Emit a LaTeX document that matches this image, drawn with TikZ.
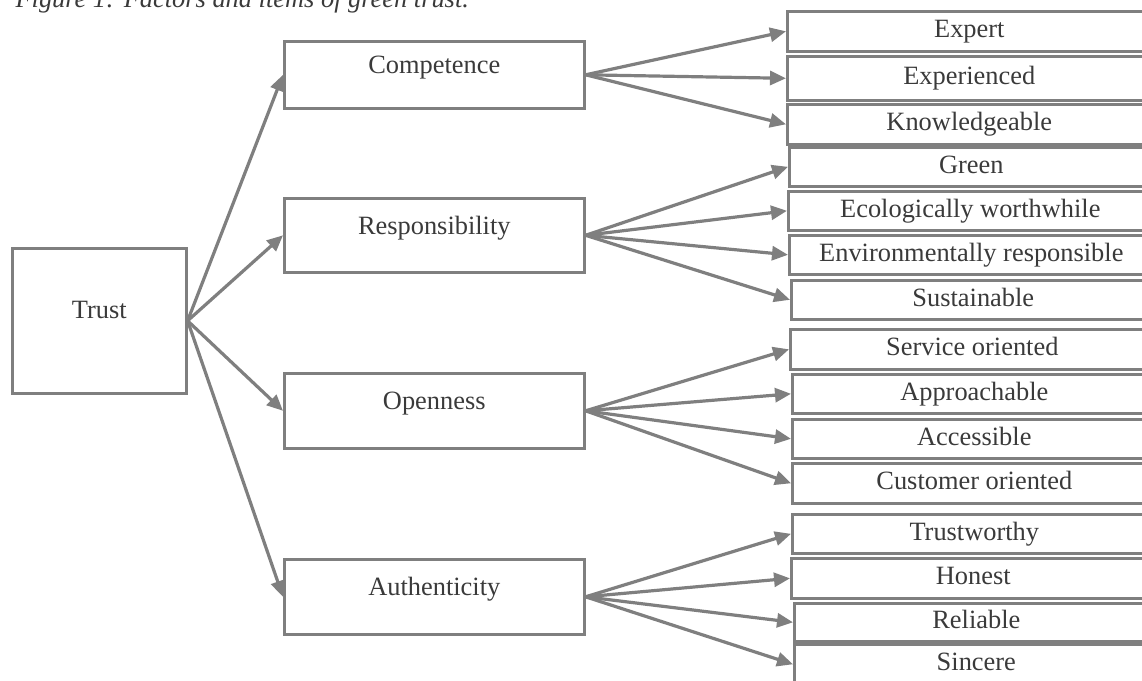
\documentclass[tikz,border=0pt]{standalone}
\usepackage{fontspec}
\setmainfont{Liberation Serif}
\usepackage{xcolor}
\usepackage{tikz}
\usetikzlibrary{arrows.meta}

\definecolor{linegray}{HTML}{7F7F7F}
\definecolor{textgray}{HTML}{3A3A3A}

\begin{document}
\begin{tikzpicture}[x=1pt, y=-1pt,
                    every node/.style={text=textgray,
                    font=\fontsize{26.4}{30}\selectfont},
                    trustbox/.style={draw=linegray, line width=2.6pt,
                    inner sep=0pt, anchor=north west,
                    text height=70pt, text depth=75pt,
                    minimum width=174pt, minimum height=145pt},
                    factorbox/.style={draw=linegray, line width=2.6pt,
                    inner sep=0pt, anchor=north west,
                    text height=32pt, text depth=34pt,
                    minimum width=300pt},
                    itembox/.style={draw=linegray, line width=2.6pt,
                    inner sep=0pt, anchor=north west,
                    text height=18pt, text depth=5pt,
                    minimum width=364pt},
                    arrowline/.style={draw=linegray, line width=3.2pt,
                    -{Triangle[length=16pt,width=14pt]}}]
                    \useasboundingbox (0,0) rectangle (1142,680);
                    \clip (0,0) rectangle (1142,680);
                    \node[anchor=base west,
                    font=\fontsize{26.4}{30}\selectfont\itshape]
                    (caption) at (12,8)
                    {Figure 1: Factors and items of green trust.};
                    \node[trustbox] (trust) at (11,247) {Trust};
                    \foreach \n/\t/\top/\bot in
                    {comp/Competence/40/107,
                    resp/Responsibility/197/271,
                    open/Openness/372/447,
                    auth/Authenticity/558/633}
                    \node[factorbox, minimum height={(\bot-\top)*1pt}]
                    (\n) at (283,\top) {\t};
                    \foreach \n/\t/\x/\top/\bot in
                    {expert/Expert/786/10/50,
                    experienced/Experienced/786/55/99,
                    knowledge/Knowledgeable/786/103/143,
                    green/Green/788/146/185,
                    eco/Ecologically worthwhile/787/190/229,
                    env/Environmentally responsible/788/234/273,
                    sustain/Sustainable/790/279/318,
                    service/Service oriented/789/328/368,
                    approach/Approachable/791/373/412,
                    access/Accessible/791/418/457,
                    customer/Customer oriented/791/462/502,
                    trustworthy/Trustworthy/791/513/552,
                    honest/Honest/790/557/597,
                    reliable/Reliable/793/602/640,
                    sincere/Sincere/793/643/683}
                    \node[itembox, minimum height={(\bot-\top)*1pt}]
                    (\n) at (\x,\top) {\t};
                    \foreach \f in {comp,resp,open,auth}
                    \draw[arrowline] (trust.east) -- (\f.west);
                    \foreach \i in {expert,experienced,knowledge}
                    \draw[arrowline] (comp.east) -- (\i.west);
                    \foreach \i in {green,eco,env,sustain}
                    \draw[arrowline] (resp.east) -- (\i.west);
                    \foreach \i in {service,approach,access,customer}
                    \draw[arrowline] (open.east) -- (\i.west);
                    \foreach \i in {trustworthy,honest,reliable,sincere}
                    \draw[arrowline] (auth.east) -- (\i.west);
                \end{tikzpicture}
\end{document}
